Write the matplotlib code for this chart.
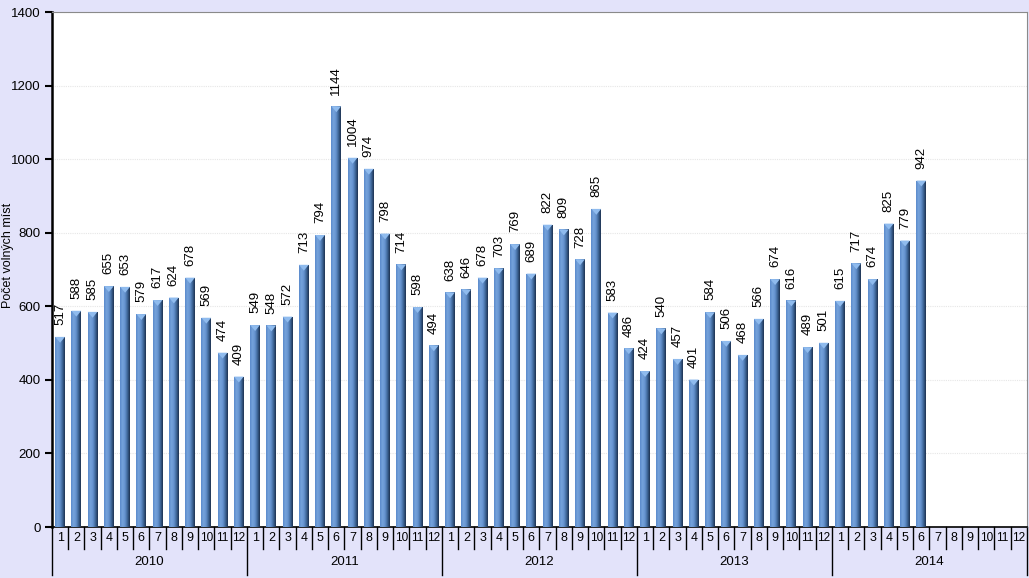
import numpy as np
import matplotlib
matplotlib.use("Agg")
import matplotlib.pyplot as plt
from matplotlib.colors import LinearSegmentedColormap

years = ["2010", "2011", "2012", "2013", "2014"]
months = [str(m) for m in range(1, 13)]

v2010 = [517, 588, 585, 655, 653, 579, 617, 624, 678, 569, 474, 409]
v2011 = [549, 548, 572, 713, 794, 1144, 1004, 974, 798, 714, 598, 494]
v2012 = [638, 646, 678, 703, 769, 689, 822, 809, 728, 865, 583, 486]
v2013 = [424, 540, 457, 401, 584, 506, 468, 566, 674, 616, 489, 501]
v2014 = [615, 717, 674, 825, 779, 942]

values = v2010 + v2011 + v2012 + v2013 + v2014
n_slots = len(years) * 12

bg = "#e3e3fa"
fnt = "Liberation Sans"
fig = plt.figure(figsize=(10.29, 5.78), dpi=100, facecolor=bg)
ax = fig.add_axes([0.0505, 0.0882, 0.9475, 0.8908])
ax.set_facecolor("white")

x = np.arange(len(values))
width = 0.6
bars = ax.bar(x, values, width=width, color="#4f7fb8", zorder=2)

# horizontal shading light -> dark, clipped to each bar
cmap = LinearSegmentedColormap.from_list(
    "barshade", ["#5a8acb", "#76a3dc", "#6593cf", "#3e6698", "#1d3250"])
grad = np.linspace(0, 1, 64).reshape(1, -1)
for b in bars:
    x0, w, h = b.get_x(), b.get_width(), b.get_height()
    im = ax.imshow(grad, cmap=cmap, aspect="auto", extent=[x0, x0 + w, 0, h],
                   zorder=3, interpolation="bilinear")
    im.set_clip_path(b)
    # little cone cap on top
    ax.fill([x0, x0 + w / 2, x0 + w], [h, h - 16, h], color="#8fbbee", lw=0, zorder=4)

for xi, v in zip(x, values):
    ax.text(xi, v + 32, str(v), rotation=90, ha="center", va="bottom",
            fontsize=9.5, family=fnt, zorder=5)

ax.set_xlim(-0.5, n_slots - 0.5)
ax.set_ylim(0, 1400)
ax.set_yticks(range(0, 1401, 200))
ax.tick_params(axis="y", direction="out", length=5, width=1.5, labelsize=9.5, pad=3)
for lab in ax.get_yticklabels():
    lab.set_family(fnt)
ax.grid(axis="y", color="#e6e6e6", lw=0.8, ls=(0, (1, 1)), zorder=0)
ax.set_axisbelow(True)
ax.set_xticks([])

for side in ["top", "right"]:
    ax.spines[side].set_color("#8a8a8a")
ax.spines["left"].set_linewidth(1.8)
ax.spines["bottom"].set_linewidth(1.2)

fig.text(0.002, 0.558, "Počet volných míst", rotation=90, ha="left", va="center",
         fontsize=9, family=fnt)

# two-level category axis
tr = ax.get_xaxis_transform()
row1 = -0.042
row2 = -0.093
for i in range(n_slots + 1):
    pos = i - 0.5
    depth = row2 if i % 12 == 0 else row1
    ax.plot([pos, pos], [0, depth], color="black", lw=1, transform=tr, clip_on=False)
for i in range(n_slots):
    m = months[i % 12]
    ax.text(i, row1 / 2, m, transform=tr, ha="center", va="center",
            fontsize=9 if len(m) == 1 else 8.5, family=fnt)
for k, yr in enumerate(years):
    ax.text(k * 12 + 5.5, (row1 + row2) / 2, yr, transform=tr, ha="center", va="center",
            fontsize=9.5, family=fnt)

fig.savefig("out.png", dpi=100, facecolor=bg)
